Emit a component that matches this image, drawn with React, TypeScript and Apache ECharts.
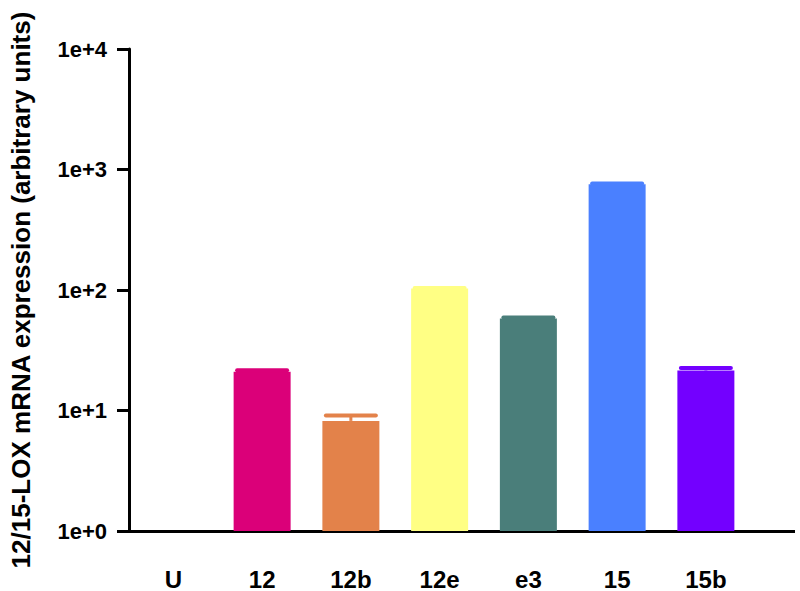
import React, { useEffect, useRef } from "react";
import * as echarts from "echarts";

const categories = ["U", "12", "12b", "12e", "e3", "15", "15b"];
const values = [1, 21, 8.2, 103, 58, 755, 21.5];
const errorUpper = [1, 21.6, 9.1, 104, 59, 765, 22.5];
const colors = ["#888888", "#DB0079", "#E3824A", "#FFFF84", "#4A7E7A", "#4A80FF", "#7300FF"];
const yTitle = "12/15-LOX mRNA expression (arbitrary units)";

export default function App() {
  const ref = useRef<HTMLDivElement>(null);
  useEffect(() => {
    if (!ref.current) return;
    const chart = echarts.init(ref.current, null, { renderer: "svg" });
    const font = "'Liberation Sans', Arial, sans-serif";
    const xData = [...categories, ""];
    const errData = categories.map((_, i) => [i, values[i], errorUpper[i]]).filter((d) => d[2] > d[1]);
    chart.setOption({
      animation: false,
      backgroundColor: "#ffffff",
      grid: { left: 125, top: 49, bottom: 58, right: 1, containLabel: false },
      xAxis: {
        type: "category",
        data: xData,
        boundaryGap: true,
        axisLine: { lineStyle: { color: "#000", width: 3 } },
        axisTick: { alignWithLabel: true, length: 12, interval: 0, lineStyle: { color: "#000", width: 3 } },
        axisLabel: { interval: 0, margin: 36, color: "#000", fontSize: 24, fontWeight: "bold", fontFamily: font },
        splitLine: { show: false },
      },
      yAxis: {
        type: "log",
        logBase: 10,
        min: 1,
        max: 10000,
        name: yTitle,
        nameLocation: "middle",
        nameGap: 95,
        nameTextStyle: { color: "#000", fontSize: 26, fontWeight: "bold", fontFamily: font },
        axisLine: { show: true, lineStyle: { color: "#000", width: 3 } },
        axisTick: { show: true, length: 12, lineStyle: { color: "#000", width: 3 } },
        axisLabel: {
          margin: 22,
          color: "#000",
          fontSize: 22,
          fontWeight: "bold",
          fontFamily: font,
          formatter: (v: number) => "1e+" + Math.round(Math.log10(v)),
        },
        splitLine: { show: false },
      },
      series: [
        {
          type: "bar",
          barWidth: 57,
          data: values.map((v, i) => ({ value: v, itemStyle: { color: colors[i] } })),
        },
        {
          type: "custom",
          data: errData,
          encode: { x: 0, y: [1, 2] },
          z: 3,
          renderItem: (params: any, api: any) => {
            const i = api.value(0);
            const mean = api.value(1);
            const up = api.value(2);
            const top = api.coord([i, up]);
            const base = api.coord([i, mean]);
            const c = colors[i];
            const half = 25;
            return {
              type: "group",
              children: [
                { type: "line", shape: { x1: top[0], y1: top[1], x2: base[0], y2: base[1] }, style: { stroke: c, lineWidth: 3 } },
                {
                  type: "line",
                  shape: { x1: top[0] - half, y1: top[1], x2: top[0] + half, y2: top[1] },
                  style: { stroke: c, lineWidth: 4, lineCap: "round" },
                },
              ],
            };
          },
        },
      ],
    });
    return () => chart.dispose();
  }, []);
  return (
    <div style={{ position: "fixed", left: 0, top: 0, width: 795, height: 591, overflow: "hidden", background: "#fff" }}>
      <div ref={ref} style={{ width: 840, height: 591 }} />
    </div>
  );
}
